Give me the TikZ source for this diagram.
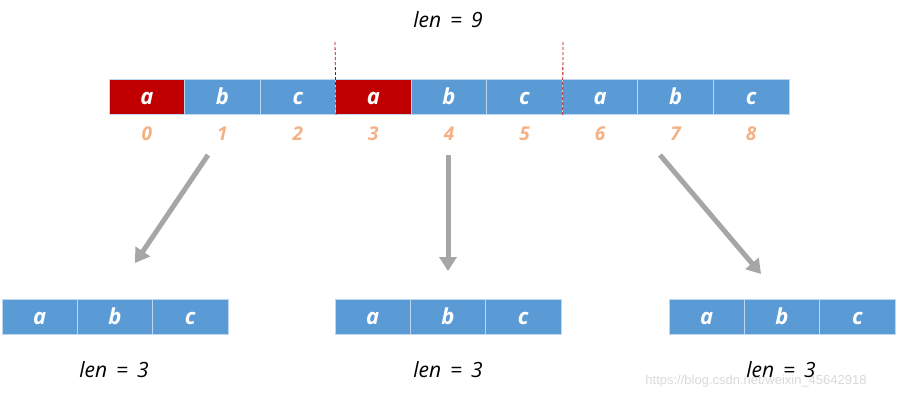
\documentclass[tikz,border=0pt]{standalone}
\usepackage{fontspec}
\setmainfont{Open Sans}
\setsansfont{Liberation Sans}
\usetikzlibrary{arrows.meta}
\definecolor{cellred}{HTML}{C00000}
\definecolor{cellblue}{HTML}{5B9BD5}
\definecolor{cellline}{HTML}{BDD7EE}
\definecolor{idxorange}{HTML}{F4B183}
\definecolor{arrowgray}{HTML}{A6A6A6}
\newcommand{\lenfont}{\itshape\fontsize{21}{21}\selectfont\spaceskip=9pt\relax}
\tikzset{
  cell/.style={rectangle, draw=cellline, line width=0.8pt, fill=cellblue, text=white,
    minimum width=75.5pt, minimum height=35pt, inner sep=0pt, text height=15pt, text depth=0pt,
    font=\bfseries\itshape\fontsize{22}{22}\selectfont},
  redcell/.style={cell, fill=cellred},
  idx/.style={text=idxorange, text height=14pt, text depth=0pt, font=\bfseries\itshape\fontsize{19}{19}\selectfont},
  lenlabel/.style={font=\lenfont},
  splitarrow/.style={draw=arrowgray, line width=5pt, -{Triangle[width=17pt,length=14pt]}},
  cut/.style={draw=cellred, densely dashed, line width=0.8pt}
}
\begin{document}
\begin{tikzpicture}[x=1pt, y=-1pt]
\useasboundingbox (0,0) rectangle (899,400);
\node[lenlabel] (len9) at (448,20){len = 9};
% top row
\node[redcell] (t0) at (146.8,97){a};
\node[cell] (t1) at (222.3,97){b};
\node[cell] (t2) at (297.9,97){c};
\node[redcell] (t3) at (373.4,97){a};
\node[cell] (t4) at (449,97){b};
\node[cell] (t5) at (524.5,97){c};
\node[cell] (t6) at (600.1,97){a};
\node[cell] (t7) at (675.6,97){b};
\node[cell] (t8) at (751.2,97){c};
% indices
\node[idx] (i0) at (146.8,133){0};
\node[idx] (i1) at (222.3,133){1};
\node[idx] (i2) at (297.9,133){2};
\node[idx] (i3) at (373.4,133){3};
\node[idx] (i4) at (449,133){4};
\node[idx] (i5) at (524.5,133){5};
\node[idx] (i6) at (600.1,133){6};
\node[idx] (i7) at (675.6,133){7};
\node[idx] (i8) at (751.2,133){8};
% cuts
\coordinate (cut1) at (335,42);
\coordinate (cut2) at (563,42);
\draw[cut] (cut1) -- (t2.south east);
\draw[cut] (cut2) -- (t5.south east);
% left copy
\node[cell] (l0) at (39.7,316.5){a};
\node[cell] (l1) at (115,316.5){b};
\node[cell] (l2) at (190.3,316.5){c};
\node[lenlabel] (lenl) at (114,370){len = 3};
% middle copy
\node[cell] (m0) at (372.7,316.5){a};
\node[cell] (m1) at (448,316.5){b};
\node[cell] (m2) at (523.3,316.5){c};
\node[lenlabel] (lenm) at (448,370){len = 3};
% right copy
\node[cell] (r0) at (706.7,316.5){a};
\node[cell] (r1) at (782,316.5){b};
\node[cell] (r2) at (857.3,316.5){c};
\node[lenlabel] (lenr) at (781,370){len = 3};
% arrows
\coordinate (a1s) at (208,155);
\coordinate (a1e) at (135,263);
\coordinate (a2s) at (448,155);
\coordinate (a2e) at (448,271);
\coordinate (a3s) at (660,155);
\coordinate (a3e) at (761,274);
\draw[splitarrow] (a1s) -- (a1e);
\draw[splitarrow] (a2s) -- (a2e);
\draw[splitarrow] (a3s) -- (a3e);
\node[text=black!15, font=\sffamily\fontsize{13}{13}\selectfont] (mark) at (756,381){https://blog.csdn.net/weixin\_45642918};
\end{tikzpicture}
\end{document}
